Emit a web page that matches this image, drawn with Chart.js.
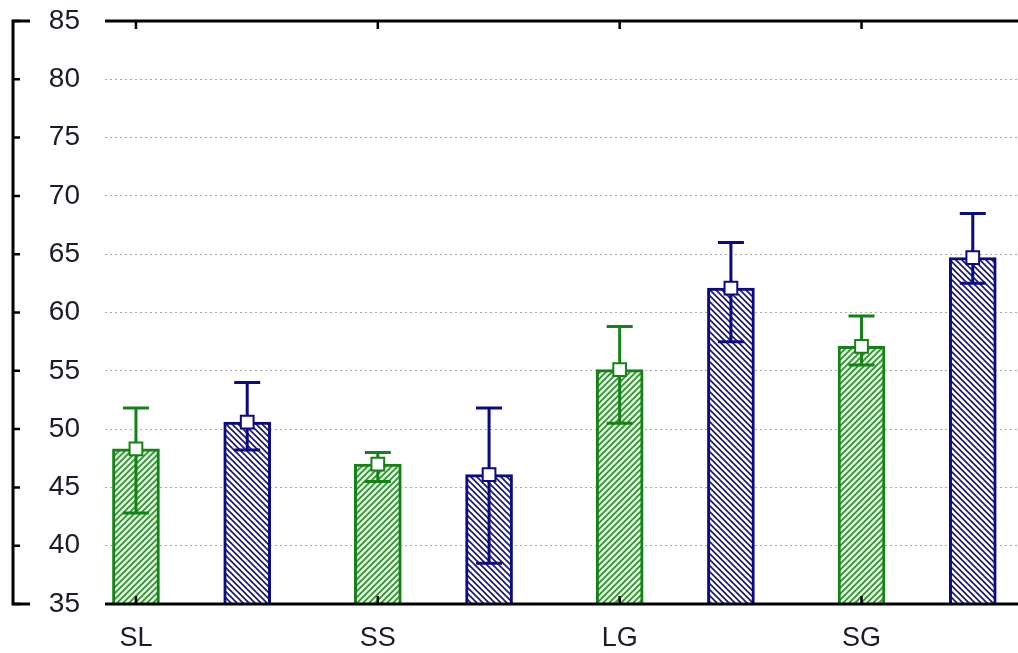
<!DOCTYPE html>
<html>
<head>
<meta charset="utf-8">
<script src="https://cdn.jsdelivr.net/npm/chart.js@4"></script>
<style>
  body { margin: 0; background: #fff; }
  #wrap { width: 1018px; height: 653px; }
</style>
</head>
<body>
<div id="wrap"><canvas id="chart"></canvas></div>
<script>
const categories = ['SL', 'SS', 'LG', 'SG'];
const greenMeans = [48.3, 47.0, 55.1, 57.1];
const greenLow = [42.8, 45.5, 50.5, 55.5];
const greenHigh = [51.8, 48.0, 58.8, 59.7];
const blueMeans = [50.6, 46.1, 62.1, 64.7];
const blueLow = [48.2, 38.5, 57.5, 62.5];
const blueHigh = [54.0, 51.8, 66.0, 68.5];
const yTicks = [35, 40, 45, 50, 55, 60, 65, 70, 75, 80, 85];
const blueOffset = 0.46;

const green = 'rgb(20,130,20)';
const navy = 'rgb(10,10,130)';

function hatch(bg, fg, forward) {
  const c = document.createElement('canvas');
  c.width = 6; c.height = 6;
  const g = c.getContext('2d');
  g.fillStyle = bg; g.fillRect(0, 0, 6, 6);
  g.strokeStyle = fg; g.lineWidth = 1.6;
  g.beginPath();
  if (forward) {
    g.moveTo(-1, 7); g.lineTo(7, -1);
    g.moveTo(-1, 1); g.lineTo(1, -1);
    g.moveTo(5, 7); g.lineTo(7, 5);
  } else {
    g.moveTo(-1, -1); g.lineTo(7, 7);
    g.moveTo(5, -1); g.lineTo(7, 1);
    g.moveTo(-1, 5); g.lineTo(1, 7);
  }
  g.stroke();
  return g.createPattern(c, 'repeat');
}

const greenPts = greenMeans.map((v, i) => ({ x: i, y: v }));
const bluePts = blueMeans.map((v, i) => ({ x: i + blueOffset, y: v }));

const errorBars = {
  id: 'errorBars',
  afterDatasetDraw(chart, args) {
    const ds = chart.data.datasets[args.index];
    if (!ds.errLow) return;
    const ctx = chart.ctx, x = chart.scales.x, y = chart.scales.y;
    ctx.save();
    ctx.strokeStyle = ds.borderColor;
    ctx.lineWidth = 3;
    ds.data.forEach((p, i) => {
      const px = x.getPixelForValue(p.x);
      const t = y.getPixelForValue(ds.errHigh[i]);
      const b = y.getPixelForValue(ds.errLow[i]);
      ctx.beginPath();
      ctx.moveTo(px, t); ctx.lineTo(px, b);
      ctx.moveTo(px - 13, t); ctx.lineTo(px + 13, t);
      ctx.moveTo(px - 13, b); ctx.lineTo(px + 13, b);
      ctx.stroke();
    });
    ctx.restore();
  }
};

const frame = {
  id: 'frame',
  afterDraw(chart) {
    const ctx = chart.ctx, a = chart.chartArea, x = chart.scales.x, y = chart.scales.y;
    ctx.save();
    ctx.strokeStyle = '#000';
    ctx.lineWidth = 3;
    ctx.beginPath();
    ctx.moveTo(a.left, a.top); ctx.lineTo(a.right, a.top);
    ctx.moveTo(a.left, a.bottom); ctx.lineTo(a.right, a.bottom);
    // left axis with brackets
    ctx.moveTo(30, a.top); ctx.lineTo(13, a.top); ctx.lineTo(13, a.bottom); ctx.lineTo(30, a.bottom);
    ctx.stroke();
    ctx.lineWidth = 2.5;
    ctx.beginPath();
    yTicks.forEach(v => {
      const py = y.getPixelForValue(v);
      ctx.moveTo(13, py); ctx.lineTo(20, py);
    });
    categories.forEach((c, i) => {
      const px = x.getPixelForValue(i);
      ctx.moveTo(px, a.top); ctx.lineTo(px, a.top + 8);
      ctx.moveTo(px, a.bottom); ctx.lineTo(px, a.bottom - 8);
    });
    ctx.stroke();
    ctx.restore();
  }
};

new Chart(document.getElementById('chart'), {
  type: 'bar',
  data: {
    datasets: [
      { type: 'line', data: greenPts, showLine: false, order: 1,
        pointStyle: 'rect', pointRadius: 9, pointBorderWidth: 2,
        pointBackgroundColor: '#fff', pointBorderColor: green },
      { type: 'line', data: bluePts, showLine: false, order: 1,
        pointStyle: 'rect', pointRadius: 9, pointBorderWidth: 2,
        pointBackgroundColor: '#fff', pointBorderColor: navy },
      { data: greenPts, order: 2, grouped: false, barThickness: 47, borderWidth: 3, borderSkipped: false,
        borderColor: green, backgroundColor: hatch('rgb(228,245,228)', 'rgb(40,145,40)', true),
        errLow: greenLow, errHigh: greenHigh },
      { data: bluePts, order: 2, grouped: false, barThickness: 47, borderWidth: 3, borderSkipped: false,
        borderColor: navy, backgroundColor: hatch('#fff', 'rgb(20,20,120)', false),
        errLow: blueLow, errHigh: blueHigh }
    ]
  },
  options: {
    responsive: true,
    maintainAspectRatio: false,
    animation: false,
    layout: { autoPadding: false, padding: { top: 21, right: 0, left: 0, bottom: 0 } },
    plugins: { legend: { display: false }, tooltip: { enabled: false } },
    scales: {
      x: {
        type: 'linear',
        offset: false,
        min: -0.128,
        max: 3.647,
        grid: { display: false },
        border: { display: false },
        afterBuildTicks: s => { s.ticks = categories.map((c, i) => ({ value: i })); },
        afterFit: s => { s.height = 49; s.paddingLeft = 0; s.paddingRight = 0; },
        ticks: {
          autoSkip: false,
          maxRotation: 0,
          padding: 10,
          color: '#1a1a2a',
          font: { family: "'Liberation Sans', Arial, sans-serif", size: 27 },
          callback: v => categories[v]
        }
      },
      y: {
        min: 35,
        max: 85,
        afterBuildTicks: s => { s.ticks = yTicks.map(v => ({ value: v })); },
        afterFit: s => { s.width = 105; s.paddingTop = 0; s.paddingBottom = 0; },
        border: { display: false, dash: [2, 3] },
        grid: {
          drawTicks: false,
          tickLength: 0,
          lineWidth: 1,
          color: c => (c.tick && (c.tick.value === 35 || c.tick.value === 85)) ? 'rgba(0,0,0,0)' : '#a8a8a8'
        },
        ticks: {
          padding: 25,
          color: '#1a1a2a',
          font: { family: "'Liberation Sans', Arial, sans-serif", size: 28 }
        }
      }
    }
  },
  plugins: [errorBars, frame]
});
</script>
</body>
</html>
